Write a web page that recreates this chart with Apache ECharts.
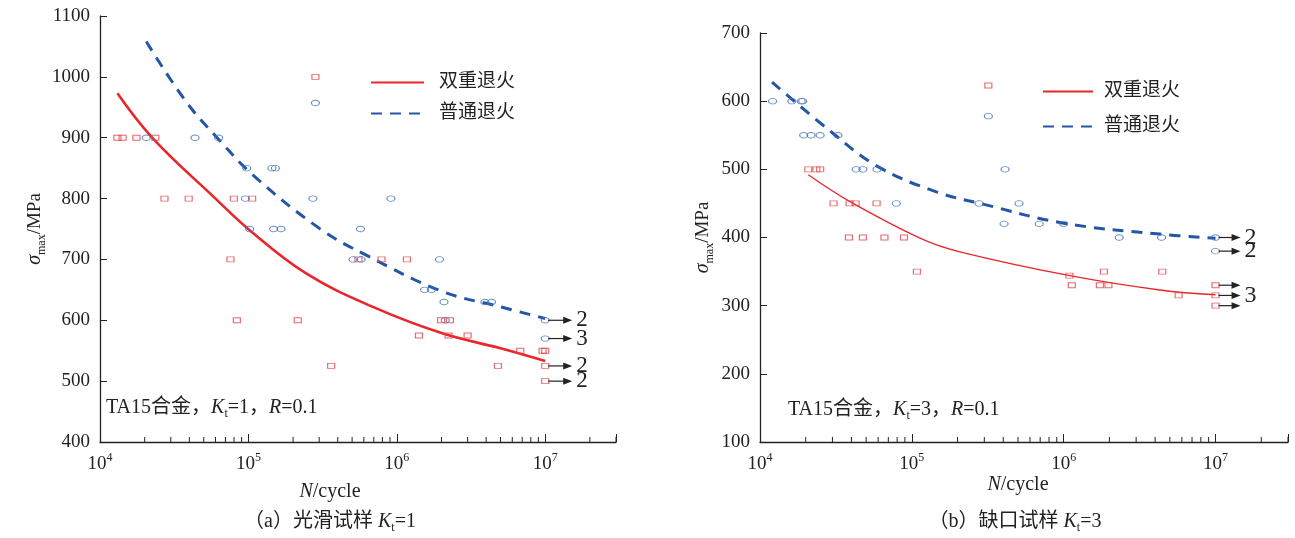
<!DOCTYPE html>
<html>
<head>
<meta charset="utf-8">
<script src="https://cdn.jsdelivr.net/npm/echarts@6.0.0/dist/echarts.min.js"></script>
<style>
  html, body { margin: 0; padding: 0; background: #fff; }
  #main { width: 1295px; height: 538px; }
</style>
</head>
<body>
<div id="main"></div>
<script>
// ---- 数据 (a) 光滑试样 Kt=1 ----
var redPtsA = [
    [1.31e4, 900], [1.42e4, 900], [1.76e4, 900], [2.36e4, 900],
    [2.72e4, 800], [3.96e4, 800], [7.98e4, 800], [1.06e5, 800],
    [2.83e5, 1000],
    [7.57e4, 700], [5.52e5, 700], [7.89e5, 700], [1.17e6, 700],
    [8.36e4, 600], [2.15e5, 600], [1.99e6, 600], [2.28e6, 600],
    [1.41e6, 575], [2.23e6, 575], [3.0e6, 575],
    [6.79e6, 550], [9.6e6, 550], [1.0e7, 550],
    [3.61e5, 525], [4.8e6, 525], [1.0e7, 525],
    [1.0e7, 500]
];
var bluePtsA = [
    [2.05e4, 900], [4.37e4, 900], [6.3e4, 900],
    [2.83e5, 957],
    [9.75e4, 850], [1.44e5, 850], [1.52e5, 850],
    [9.55e4, 800], [2.72e5, 800], [9.12e5, 800],
    [1.02e5, 750], [1.48e5, 750], [1.66e5, 750], [5.69e5, 750],
    [5.08e5, 700], [5.75e5, 700], [1.94e6, 700],
    [1.54e6, 650], [1.71e6, 650],
    [2.08e6, 630], [3.92e6, 630], [4.35e6, 630],
    [2.12e6, 600], [1.0e7, 600],
    [1.0e7, 570]
];
// 拟合曲线
var redCurveA = [
    [1.31e4, 973], [2.27e4, 899], [6.0e4, 800], [1.02e5, 748], [2.45e5, 677],
    [6.9e5, 622], [2e6, 579], [5e6, 554], [1e7, 533]
];
var blueCurveA = [
    [2.05e4, 1058], [3.81e4, 959], [6.38e4, 896], [1.07e5, 839],
    [3.01e5, 751], [6.22e5, 707], [2e6, 648], [5e6, 622], [1e7, 603]
];
// 越出点
var runoutA = [[1e7, 600], [1e7, 570], [1e7, 525], [1e7, 500]];
var runoutLabelsA = ['2', '3', '2', '2'];

// ---- 数据 (b) 缺口试样 Kt=3 ----
var redPtsB = [
    [3.19e5, 623],
    [2.08e4, 500], [2.35e4, 500], [2.49e4, 500],
    [3.05e4, 450], [3.89e4, 450], [4.26e4, 450], [5.86e4, 450],
    [3.85e4, 400], [4.76e4, 400], [6.6e4, 400], [8.87e4, 400],
    [1.08e5, 350], [1.84e6, 350], [4.46e6, 350],
    [1.09e6, 344],
    [1.13e6, 330], [1.73e6, 330], [1.97e6, 330], [1e7, 330],
    [5.71e6, 315], [1e7, 315],
    [1e7, 300]
];
var bluePtsB = [
    [1.21e4, 600], [1.62e4, 600], [1.87e4, 600], [1.91e4, 600],
    [1.94e4, 550], [2.17e4, 550], [2.49e4, 550], [3.26e4, 550],
    [4.3e4, 500], [4.76e4, 500], [5.9e4, 500], [4.11e5, 500],
    [3.19e5, 578],
    [7.9e4, 450], [2.77e5, 450], [5.08e5, 450],
    [4.05e5, 420], [6.9e5, 420], [1.0e6, 420],
    [2.32e6, 400], [4.41e6, 400], [1e7, 400],
    [1e7, 380]
];
var redCurveB = [
    [2.08e4, 492], [3.89e4, 453], [1.16e5, 398], [2.07e5, 379],
    [1.1e6, 344], [4.3e6, 323], [1e7, 316]
];
var blueCurveB = [
    [1.2e4, 628], [3.02e4, 553], [5.98e4, 504], [1.45e5, 467], [2.94e5, 449],
    [1e6, 421], [4.3e6, 405], [1e7, 399]
];
var runoutB = [[1e7, 400], [1e7, 380], [1e7, 330], [1e7, 315], [1e7, 300]];
var runoutLabelsB = ['2', '2', '', '3', ''];

// 坐标轴
var xMin = 1e4, xMax = 3e7;
var yRangeA = [400, 1100];
var yRangeB = [100, 700];
var minorTicks = [];
for (var d = 4; d <= 7; d++) {
    for (var k = 2; k <= 9; k++) {
        var v = k * Math.pow(10, d);
        if (v <= xMax) minorTicks.push(v);
    }
}

var FONT = "'Liberation Serif', 'Noto Sans CJK SC', serif";
var RED = '#e8262b', BLUE = '#2456a6';
var RED_PT = '#e0454a', BLUE_PT = '#3f72b8';
var ELLIPSE = 'path://M10,5A5,5 0 1,1 0,5A5,5 0 1,1 10,5Z';

var chart = echarts.init(document.getElementById('main'));

function xAxisOpt(gi) {
    return {
        type: 'log', logBase: 10, gridIndex: gi, min: xMin, max: xMax,
        axisLine: { lineStyle: { color: '#222', width: 1.3 } },
        axisTick: { inside: true, length: 8, lineStyle: { color: '#222' } },
        splitLine: { show: false },
        axisLabel: {
            color: '#222', fontFamily: FONT, fontSize: 19, margin: 10,
            formatter: function (v) {
                var e = Math.log(v) / Math.LN10;
                if (Math.abs(e - Math.round(e)) > 1e-6) return '';
                return '{b|10}{sup|' + Math.round(e) + '}';
            },
            rich: {
                b: { fontSize: 19, fontFamily: FONT, color: '#222', lineHeight: 24 },
                sup: { fontSize: 12, fontFamily: FONT, color: '#222', lineHeight: 12, verticalAlign: 'top' }
            }
        }
    };
}
function yAxisOpt(gi, range, gap) {
    return {
        type: 'value', gridIndex: gi, min: range[0], max: range[1], interval: 100,
        name: '{i|σ}{sub|max}/MPa', nameLocation: 'middle', nameGap: gap, nameRotate: 90,
        nameTextStyle: {
            fontFamily: FONT, fontSize: 19, color: '#222',
            rich: {
                i: { fontFamily: FONT, fontSize: 20, fontStyle: 'italic', color: '#222', lineHeight: 26 },
                sub: { fontFamily: FONT, fontSize: 12, color: '#222', lineHeight: 12, verticalAlign: 'bottom' }
            }
        },
        axisLine: { show: true, lineStyle: { color: '#222', width: 1.3 } },
        axisTick: { inside: true, length: 7, lineStyle: { color: '#222' } },
        splitLine: { show: false },
        axisLabel: {
            color: '#222', fontFamily: FONT, fontSize: 19, margin: 10,
            formatter: function (v) { return String(v); }
        }
    };
}

function scatter(name, data, gi, isRed) {
    return {
        name: name, type: 'scatter', xAxisIndex: gi, yAxisIndex: gi, data: data,
        symbol: isRed ? 'rect' : ELLIPSE,
        symbolSize: isRed ? [7, 5] : [8, 5.5],
        itemStyle: { color: 'transparent', borderColor: isRed ? RED_PT : BLUE_PT, borderWidth: 1 },
        z: 3, silent: true
    };
}
function curve(name, data, gi, color, width, dashed) {
    return {
        name: name, type: 'line', xAxisIndex: gi, yAxisIndex: gi, data: data,
        smooth: 0.4, symbol: 'none', silent: true, z: 2,
        lineStyle: { color: color, width: width, type: dashed ? [11, 8] : 'solid' },
        itemStyle: { color: color }
    };
}
function minorTickSeries(gi, yMin) {
    return {
        type: 'custom', xAxisIndex: gi, yAxisIndex: gi, silent: true, z: 1,
        data: minorTicks.map(function (v) { return [v, yMin]; }),
        renderItem: function (params, api) {
            var p = api.coord([api.value(0), api.value(1)]);
            return {
                type: 'line',
                shape: { x1: p[0], y1: p[1], x2: p[0], y2: p[1] - 5 },
                style: { stroke: '#222', lineWidth: 1 }
            };
        }
    };
}
function runoutSeries(gi, data, labels, len, fs) {
    return {
        type: 'custom', xAxisIndex: gi, yAxisIndex: gi, silent: true, z: 4,
        data: data, clip: false,
        renderItem: function (params, api) {
            var p = api.coord([api.value(0), api.value(1)]);
            var x0 = p[0] + 3, x1 = p[0] + len, y = p[1];
            var kids = [
                { type: 'line', shape: { x1: x0, y1: y, x2: x1 - 6, y2: y }, style: { stroke: '#222', lineWidth: 1.2 } },
                { type: 'polygon', shape: { points: [[x1, y], [x1 - 9, y - 3.5], [x1 - 9, y + 3.5]] }, style: { fill: '#222' } }
            ];
            var t = labels[params.dataIndex];
            if (t) {
                kids.push({
                    type: 'text', x: x1 + 4, y: y,
                    style: { text: t, fontFamily: FONT, fontSize: fs, fill: '#222', align: 'left', verticalAlign: 'middle' }
                });
            }
            return { type: 'group', children: kids };
        }
    };
}

var richK = {
    i: { fontFamily: FONT, fontSize: 20, fontStyle: 'italic', color: '#222', lineHeight: 24 },
    sub: { fontFamily: FONT, fontSize: 12, color: '#222', lineHeight: 12, verticalAlign: 'bottom' },
    n: { fontFamily: FONT, fontSize: 20, color: '#222', lineHeight: 24 }
};
function label(text, x, y, align) {
    return {
        type: 'text', x: x, y: y,
        style: { text: text, rich: richK, fontFamily: FONT, fontSize: 20, fill: '#222', align: align || 'center', verticalAlign: 'middle' }
    };
}

var legendText = { fontFamily: FONT, fontSize: 19, color: '#222' };

chart.setOption({
    animation: false,
    backgroundColor: '#fff',
    grid: [
        { left: 100, top: 16, width: 516, height: 426 },
        { left: 760, top: 33, width: 528, height: 409 }
    ],
    xAxis: [xAxisOpt(0), xAxisOpt(1)],
    yAxis: [yAxisOpt(0, yRangeA, 36), yAxisOpt(1, yRangeB, 44)],
    legend: [
        {
            data: ['双重退火', '普通退火'], orient: 'vertical', left: 365, top: 68,
            itemWidth: 53, itemHeight: 14, itemGap: 12, selectedMode: false,
            itemStyle: { opacity: 0 },
            textStyle: Object.assign({ padding: [0, 0, 0, 10] }, legendText)
        },
        {
            data: ['双重退火 ', '普通退火 '], orient: 'vertical', left: 1037, top: 77,
            itemWidth: 50, itemHeight: 14, itemGap: 16, selectedMode: false,
            itemStyle: { opacity: 0 },
            textStyle: Object.assign({ padding: [0, 0, 0, 6] }, legendText)
        }
    ],
    graphic: [
        label('{n|TA15合金，}{i|K}{sub|t}{n|=1，}{i|R}{n|=0.1}', 106, 408, 'left'),
        label('{n|TA15合金，}{i|K}{sub|t}{n|=3，}{i|R}{n|=0.1}', 788, 410, 'left'),
        label('{i|N}{n|/cycle}', 330, 492),
        label('{i|N}{n|/cycle}', 1018, 485),
        label('{n|（a）光滑试样 }{i|K}{sub|t}{n|=1}', 330, 522),
        label('{n|（b）缺口试样 }{i|K}{sub|t}{n|=3}', 1015, 522)
    ],
    series: [
        minorTickSeries(0, yRangeA[0]),
        minorTickSeries(1, yRangeB[0]),
        curve('双重退火', redCurveA, 0, RED, 2.6, false),
        curve('普通退火', blueCurveA, 0, BLUE, 3, true),
        scatter('双重退火点a', redPtsA, 0, true),
        scatter('普通退火点a', bluePtsA, 0, false),
        runoutSeries(0, runoutA, runoutLabelsA, 27, 23),
        curve('双重退火 ', redCurveB, 1, RED, 1.3, false),
        curve('普通退火 ', blueCurveB, 1, BLUE, 3, true),
        scatter('双重退火点b', redPtsB, 1, true),
        scatter('普通退火点b', bluePtsB, 1, false),
        runoutSeries(1, runoutB, runoutLabelsB, 25, 24)
    ]
});
</script>
</body>
</html>
